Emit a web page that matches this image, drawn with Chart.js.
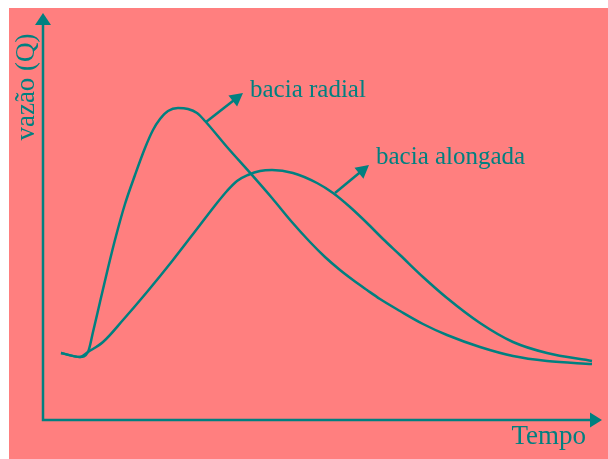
<!DOCTYPE html>
<html>
<head>
<meta charset="utf-8">
<script src="https://cdn.jsdelivr.net/npm/chart.js@4/dist/chart.umd.min.js"></script>
<style>
  html, body { margin: 0; padding: 0; background: #fff; }
  #wrap { position: relative; width: 608px; height: 459px; }
</style>
</head>
<body>
<div id="wrap"><canvas id="c" width="608" height="459"></canvas></div>
<script>
// hydrograph sketch: radial basin vs elongated basin (arbitrary units)
const radialTime = [18, 37, 45, 50, 57, 65, 73, 82, 92, 102, 110, 117, 125, 135, 145, 154, 162, 184, 209, 229, 248, 267, 282, 297, 310, 324, 337, 357, 380, 404, 437, 470, 504, 549];
const radialFlow = [67, 63, 68, 88, 118, 152, 184, 216, 245, 272, 290, 301, 309, 312, 311, 307, 299, 273, 245, 222, 199, 178, 163, 150, 140, 130, 121, 109, 96, 85, 73, 64, 59, 56];

const longTime = [18, 37, 45, 60, 80, 104, 130, 157, 174, 184, 194, 205, 217, 229, 250, 274, 290, 307, 324, 340, 357, 380, 404, 437, 470, 504, 549];
const longFlow = [67, 63, 68, 78, 100, 128, 160, 195, 217, 229, 239, 245, 249, 250, 247, 237, 227, 213, 197, 181, 165, 143, 122, 97, 78, 67, 59];

// axis extents (where the arrow tips sit)
const timeMax = 559;
const flowMax = 407;

// label text, anchor (left/baseline) and pointer arrow [from, to]
const labels = ['bacia radial', 'bacia alongada'];
const labelTime = [207, 333];
const labelFlow = [323, 256];
const arrowFromTime = [163, 292];
const arrowFromFlow = [298, 227];
const arrowToTime = [200, 326];
const arrowToFlow = [327, 255];

const TEAL = '#008080';
const PINK = '#FF7F7F';
const SERIF = "'Liberation Serif', 'DejaVu Serif', serif";

const toPts = (xs, ys) => xs.map((x, i) => ({ x, y: ys[i] }));

function arrowHead(ctx, x1, y1, x2, y2, len, half) {
  const a = Math.atan2(y2 - y1, x2 - x1);
  ctx.beginPath();
  ctx.moveTo(x2, y2);
  ctx.lineTo(x2 - len * Math.cos(a) + half * Math.sin(a), y2 - len * Math.sin(a) - half * Math.cos(a));
  ctx.lineTo(x2 - len * Math.cos(a) - half * Math.sin(a), y2 - len * Math.sin(a) + half * Math.cos(a));
  ctx.closePath();
  ctx.fill();
}

const sketch = {
  id: 'sketch',
  beforeDraw(chart) {
    const ctx = chart.ctx;
    ctx.save();
    ctx.fillStyle = PINK;
    ctx.fillRect(9, 8, chart.width - 9, chart.height - 8);
    ctx.restore();
  },
  afterDatasetsDraw(chart) {
    const { ctx, scales: { x, y } } = chart;
    const x0 = x.getPixelForValue(0), y0 = y.getPixelForValue(0);
    const xt = x.getPixelForValue(timeMax), yt = y.getPixelForValue(flowMax);
    ctx.save();
    ctx.strokeStyle = TEAL;
    ctx.fillStyle = TEAL;
    ctx.lineWidth = 2.5;
    ctx.lineCap = 'butt';

    // axes with arrows
    ctx.beginPath();
    ctx.moveTo(x0, yt + 10);
    ctx.lineTo(x0, y0);
    ctx.lineTo(xt - 10, y0);
    ctx.stroke();
    arrowHead(ctx, x0, y0, x0, yt, 12, 8);
    arrowHead(ctx, x0, y0, xt, y0, 12, 7.5);

    // pointer arrows
    for (let i = 0; i < labels.length; i++) {
      const ax = x.getPixelForValue(arrowFromTime[i]), ay = y.getPixelForValue(arrowFromFlow[i]);
      const bx = x.getPixelForValue(arrowToTime[i]), by = y.getPixelForValue(arrowToFlow[i]);
      const a = Math.atan2(by - ay, bx - ax);
      ctx.beginPath();
      ctx.moveTo(ax, ay);
      ctx.lineTo(bx - 8 * Math.cos(a), by - 8 * Math.sin(a));
      ctx.stroke();
      arrowHead(ctx, ax, ay, bx, by, 13, 7);
    }

    // texts
    ctx.textBaseline = 'alphabetic';
    ctx.font = '25px ' + SERIF;
    ctx.textAlign = 'left';
    for (let i = 0; i < labels.length; i++) {
      ctx.fillText(labels[i], x.getPixelForValue(labelTime[i]), y.getPixelForValue(labelFlow[i]));
    }
    ctx.font = '27px ' + SERIF;
    ctx.textAlign = 'right';
    ctx.fillText('Tempo', xt - 16, y0 + 24);

    ctx.translate(x0 - 9, yt + 74);
    ctx.rotate(-Math.PI / 2);
    ctx.textAlign = 'center';
    ctx.fillText('vazão (Q)', 0, 0);
    ctx.restore();
  }
};

new Chart(document.getElementById('c'), {
  type: 'line',
  data: {
    datasets: [
      { label: 'bacia radial', data: toPts(radialTime, radialFlow) },
      { label: 'bacia alongada', data: toPts(longTime, longFlow) },
    ],
  },
  options: {
    responsive: false,
    animation: false,
    layout: { padding: { left: 43, right: 6, top: 13, bottom: 39 } },
    elements: {
      line: { borderColor: TEAL, borderWidth: 2.5, cubicInterpolationMode: 'monotone', fill: false },
      point: { radius: 0, hoverRadius: 0 },
    },
    plugins: { legend: { display: false }, tooltip: { enabled: false } },
    scales: {
      x: { type: 'linear', min: 0, max: timeMax, display: false },
      y: { type: 'linear', min: 0, max: flowMax, display: false },
    },
  },
  plugins: [sketch],
});
</script>
</body>
</html>
